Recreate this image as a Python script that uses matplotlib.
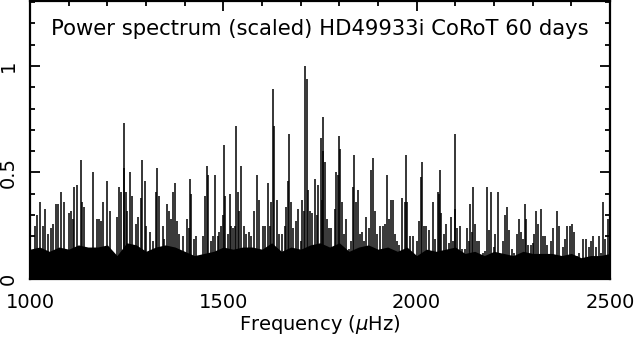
import numpy as np
import matplotlib
matplotlib.use("Agg")
from matplotlib import pyplot as plt
from matplotlib.ticker import MultipleLocator


# prominent spikes (frequency in muHz, scaled power)
peak_freq = [1001, 1012, 1018, 1025, 1033, 1039, 1047, 1055, 1059, 1066, 1073, 1081, 1087,
             1100, 1105, 1111, 1115, 1121, 1131, 1135, 1140, 1163, 1172, 1178, 1184, 1190,
             1198, 1208, 1224, 1229, 1236, 1242, 1244, 1248, 1252, 1258, 1264, 1274, 1279,
             1286, 1290, 1297, 1300, 1311, 1317, 1326, 1329, 1334, 1343, 1347, 1354, 1360,
             1365, 1371, 1376, 1381, 1385, 1395, 1405, 1410, 1414, 1417, 1424, 1429, 1447,
             1453, 1457, 1461, 1467, 1474, 1478, 1485, 1490, 1494, 1498, 1502, 1505, 1511,
             1516, 1520, 1524, 1529, 1534, 1537, 1541, 1546, 1554, 1559, 1567, 1572, 1579,
             1586, 1593, 1602, 1608, 1615, 1621, 1624, 1628, 1630, 1638, 1645, 1651, 1659,
             1661, 1668, 1671, 1674, 1681, 1688, 1694, 1700, 1704, 1709, 1712, 1716, 1720,
             1724, 1729, 1737, 1741, 1746, 1752, 1754, 1757, 1759, 1763, 1767, 1772, 1778,
             1788, 1792, 1797, 1800, 1803, 1808, 1812, 1818, 1825, 1831, 1836, 1839, 1842,
             1847, 1853, 1859, 1864, 1869, 1876, 1881, 1886, 1891, 1898, 1904, 1912, 1917,
             1922, 1928, 1933, 1939, 1945, 1950, 1955, 1963, 1969, 1972, 1976, 1984, 1990,
             2001, 2007, 2012, 2014, 2019, 2025, 2031, 2036, 2041, 2048, 2055, 2058, 2061,
             2064, 2070, 2077, 2083, 2090, 2094, 2098, 2100, 2105, 2111, 2117, 2124, 2131,
             2135, 2139, 2143, 2146, 2150, 2156, 2162, 2171, 2177, 2183, 2188, 2193, 2199,
             2203, 2210, 2217, 2224, 2229, 2234, 2240, 2246, 2253, 2260, 2264, 2271, 2274,
             2279, 2283, 2288, 2295, 2300, 2303, 2309, 2315, 2322, 2326, 2331, 2337, 2347,
             2353, 2363, 2369, 2378, 2384, 2390, 2396, 2403, 2408, 2414, 2421, 2431, 2438,
             2445, 2451, 2457, 2464, 2471, 2477, 2481, 2487, 2494]
peak_power = [0.85, 0.25, 0.30, 0.36, 0.25, 0.33, 0.21, 0.24, 0.26, 0.35, 0.35, 0.41, 0.36,
              0.31, 0.32, 0.28, 0.43, 0.44, 0.56, 0.36, 0.34, 0.50, 0.28, 0.28, 0.27, 0.36,
              0.46, 0.32, 0.29, 0.43, 0.41, 0.52, 0.73, 0.41, 0.32, 0.50, 0.39, 0.26, 0.29,
              0.38, 0.56, 0.46, 0.25, 0.22, 0.18, 0.41, 0.52, 0.39, 0.25, 0.19, 0.35, 0.32,
              0.28, 0.41, 0.45, 0.27, 0.21, 0.20, 0.28, 0.24, 0.47, 0.40, 0.19, 0.20, 0.20,
              0.39, 0.53, 0.49, 0.18, 0.20, 0.49, 0.20, 0.22, 0.25, 0.30, 0.63, 0.39, 0.21,
              0.40, 0.25, 0.24, 0.25, 0.72, 0.41, 0.32, 0.53, 0.25, 0.21, 0.22, 0.20, 0.32,
              0.49, 0.37, 0.25, 0.25, 0.45, 0.25, 0.36, 0.89, 0.72, 0.37, 0.21, 0.21, 0.25,
              0.34, 0.46, 0.68, 0.36, 0.24, 0.27, 0.33, 0.18, 0.37, 0.32, 1.00, 0.94, 0.42,
              0.32, 0.31, 0.47, 0.30, 0.44, 0.66, 0.37, 0.60, 0.76, 0.55, 0.28, 0.24, 0.24,
              0.33, 0.50, 0.49, 0.67, 0.61, 0.36, 0.21, 0.28, 0.14, 0.18, 0.43, 0.58, 0.36,
              0.42, 0.21, 0.22, 0.18, 0.29, 0.24, 0.51, 0.57, 0.32, 0.21, 0.25, 0.25, 0.26,
              0.49, 0.28, 0.37, 0.37, 0.21, 0.18, 0.16, 0.38, 0.36, 0.58, 0.36, 0.20, 0.20,
              0.18, 0.27, 0.48, 0.55, 0.25, 0.25, 0.23, 0.12, 0.36, 0.19, 0.41, 0.40, 0.51,
              0.31, 0.21, 0.26, 0.17, 0.29, 0.18, 0.33, 0.68, 0.24, 0.25, 0.14, 0.14, 0.24,
              0.18, 0.35, 0.22, 0.43, 0.26, 0.18, 0.18, 0.12, 0.13, 0.43, 0.23, 0.41, 0.15,
              0.21, 0.41, 0.10, 0.18, 0.30, 0.34, 0.23, 0.14, 0.12, 0.21, 0.28, 0.22, 0.19,
              0.35, 0.28, 0.16, 0.16, 0.17, 0.21, 0.32, 0.26, 0.33, 0.20, 0.20, 0.16, 0.18,
              0.24, 0.32, 0.25, 0.15, 0.19, 0.25, 0.25, 0.26, 0.22, 0.11, 0.12, 0.19, 0.19,
              0.15, 0.18, 0.20, 0.15, 0.20, 0.12, 0.36, 0.19, 0.28]

# dense noise floor, every 25 muHz from 1000 to 2500
floor_freq = np.arange(1000, 2501, 25)
floor_power = [0.14, 0.15, 0.13, 0.15, 0.14, 0.16, 0.15, 0.15, 0.16, 0.11, 0.17, 0.16,
               0.13, 0.15, 0.16, 0.15, 0.13, 0.11, 0.12, 0.13, 0.15, 0.14, 0.15, 0.15,
               0.14, 0.17, 0.13, 0.15, 0.14, 0.16, 0.17, 0.15, 0.17, 0.13, 0.15, 0.16,
               0.14, 0.15, 0.13, 0.15, 0.11, 0.14, 0.13, 0.14, 0.15, 0.12, 0.13, 0.11,
               0.13, 0.12, 0.11, 0.13, 0.12, 0.12, 0.12, 0.11, 0.12, 0.10, 0.11, 0.11, 0.12]

fig = plt.figure(figsize=(6.36, 3.37), dpi=100)
ax = fig.add_axes([30/636, 1 - 279/337, 580/636, 278/337])

ax.fill_between(floor_freq, 0, floor_power, color='k', lw=0)
ax.vlines(peak_freq, 0, peak_power, color='k', lw=1.1)

ax.set_xlim(1000, 2500)
ax.set_ylim(0, 1.305)
ax.xaxis.set_major_locator(MultipleLocator(500))
ax.xaxis.set_minor_locator(MultipleLocator(100))
ax.yaxis.set_minor_locator(MultipleLocator(0.1))
ax.set_yticks([0, 0.5, 1])
ax.set_yticklabels(["0", "0.5", "1"], rotation=90, va='center')

ax.tick_params(which='both', direction='in', top=True, right=True, width=1.3, labelsize=14)
ax.tick_params(which='major', length=7)
ax.tick_params(which='minor', length=3.8)
ax.tick_params(axis='x', pad=10)
ax.tick_params(axis='y', pad=9)
for s in ax.spines.values():
    s.set_linewidth(1.6)

ax.text(0.5, 0.9, "Power spectrum (scaled) HD49933i CoRoT 60 days",
        transform=ax.transAxes, ha='center', va='center', fontsize=15.2)
ax.set_xlabel(r"Frequency ($\mu$Hz)", fontsize=14, labelpad=1)

fig.savefig("out.png", dpi=100)
